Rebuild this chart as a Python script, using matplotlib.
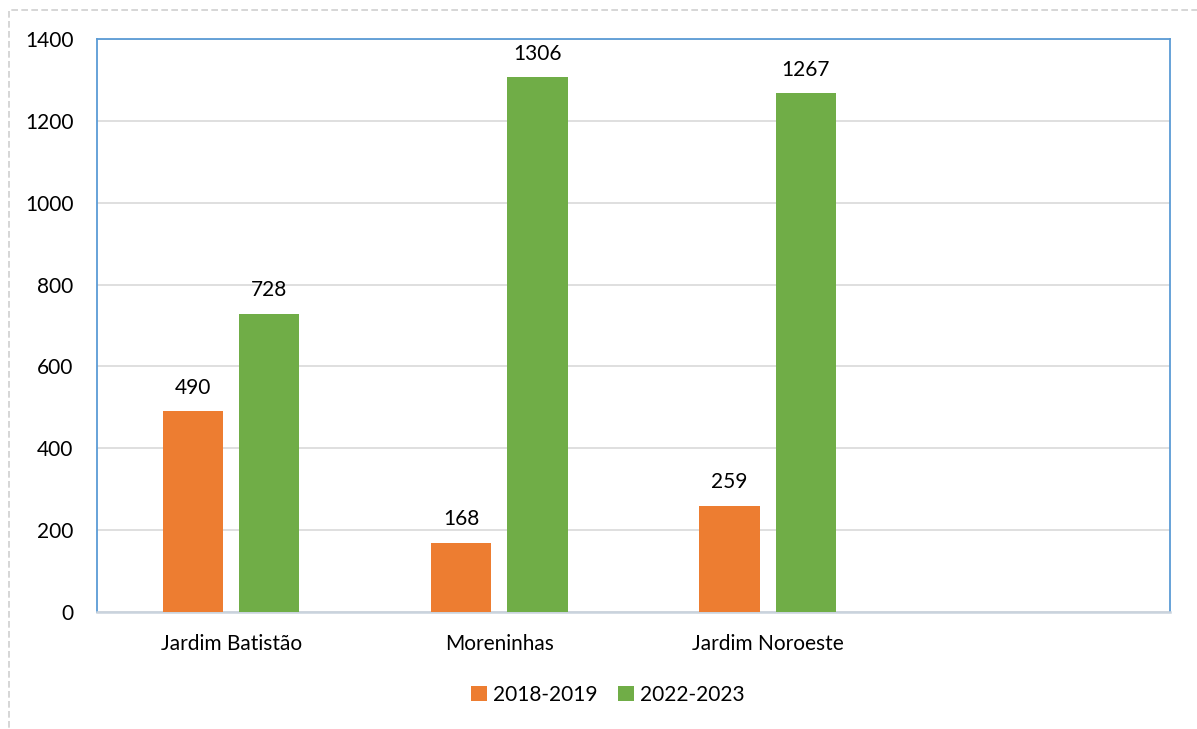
import matplotlib
matplotlib.use("Agg")
import matplotlib.pyplot as plt
from matplotlib.patches import Rectangle
import numpy as np

categories = ["Jardim Batistão", "Moreninhas", "Jardim Noroeste", ""]
series_names = ["2018-2019", "2022-2023"]
values_2018 = [490, 168, 259]
values_2022 = [728, 1306, 1267]
colors = ["#ED7D31", "#70AD47"]

plt.rcParams['font.family'] = ['Lato', 'DejaVu Sans']
FS = 15

fig = plt.figure(figsize=(11.97, 7.29), dpi=100)
ax = fig.add_axes([97/1197, 1-612/729, (1170-97)/1197, (612-39)/729])

x = np.arange(len(values_2018))
w = 0.224
off = 0.142
b1 = ax.bar(x - off, values_2018, w, color=colors[0], label=series_names[0], zorder=3)
b2 = ax.bar(x + off, values_2022, w, color=colors[1], label=series_names[1], zorder=3)
for bars in (b1, b2):
    for r in bars:
        ax.annotate(f"{int(r.get_height())}", (r.get_x() + r.get_width()/2, r.get_height()),
                    xytext=(0, 10), textcoords="offset points", ha="center", va="bottom",
                    fontsize=FS, color="#000000")

ax.set_xlim(-0.5, 3.5)
ax.set_ylim(0, 1400)
ax.set_yticks(np.arange(0, 1401, 200))
ax.set_xticks(np.arange(len(categories)))
ax.set_xticklabels(categories, fontsize=FS)
ax.tick_params(axis='y', labelsize=FS, length=0, pad=17)
ax.tick_params(axis='x', length=0, pad=16)
ax.yaxis.grid(True, color="#d9d9d9", linewidth=1.2, zorder=0)
ax.set_axisbelow(True)
for s in ("left", "top", "right"):
    ax.spines[s].set_color("#5B9BD5")
    ax.spines[s].set_linewidth(1.3)
ax.spines["bottom"].set_color("#c9d3dd")
ax.spines["bottom"].set_linewidth(1.8)

fig.legend(handles=[b1, b2], labels=series_names, loc="center", bbox_to_anchor=(608/1197, 1-695/729),
           ncol=2, frameon=False, fontsize=FS, handlelength=0.75, handleheight=0.75,
           handletextpad=0.3, columnspacing=1.0)

fig.patches.append(Rectangle((9/1197, -0.05), 1.2, 1-10/729+0.05, transform=fig.transFigure,
                             fill=False, edgecolor="#d0d0d0", linestyle=(0, (4, 2)), linewidth=1.2))

fig.savefig("out.png", dpi=100)
